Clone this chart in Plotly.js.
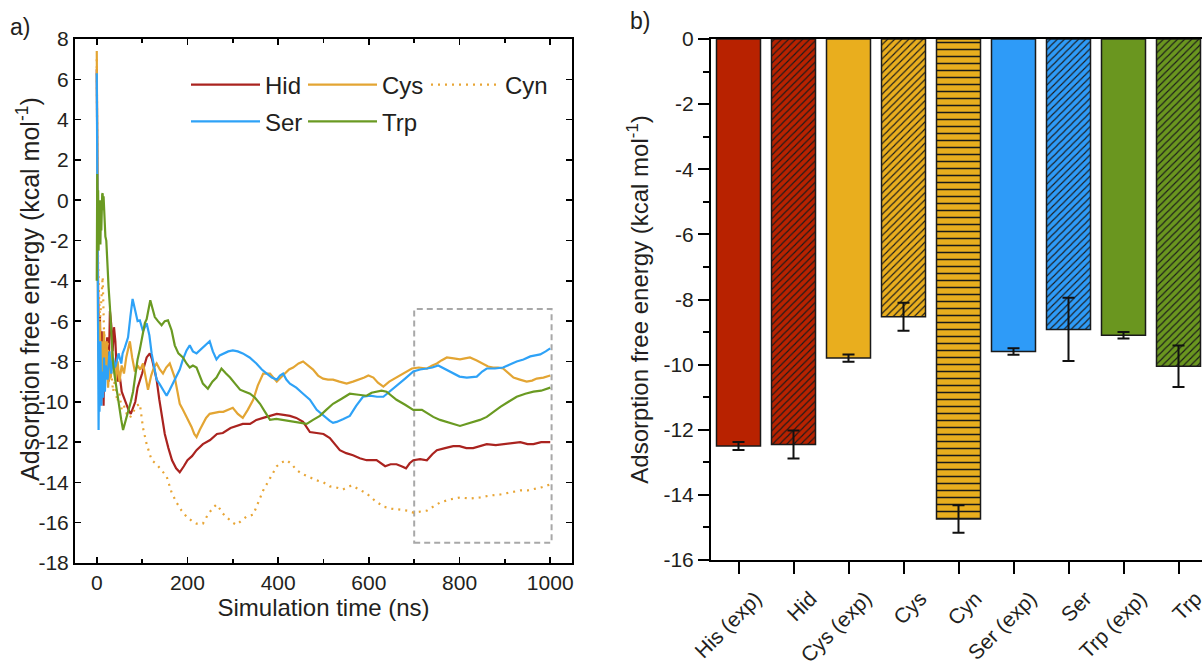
<!DOCTYPE html>
<html>
<head>
<meta charset="utf-8">
<script src="https://cdn.plot.ly/plotly-3.0.1.min.js"></script>
<style>
html,body{margin:0;padding:0;overflow:hidden;background:#fff;}
#chart{width:1206px;height:669px;}
</style>
</head>
<body>
<div id="chart"></div>
<script>
// ---------- Panel a: time series (ns, kcal/mol) ----------
const hidT = [0,1,2,3,5,7,9,11,13,15,17,20,23,26,29,32,35,38,41,44,47,50,55,60,65,70,75,80,85,90,95,100,105,110,117,122,127,132,138,144,150,158,166,175,183,192,200,210,220,234,250,265,278,295,308,322,338,352,367,382,397,412,426,440,455,470,485,500,514,525,536,550,565,580,595,617,636,648,661,672,682,690,698,713,728,740,750,768,786,800,815,830,845,860,880,904,920,934,950,963,980,1000];
const hidY = [6.5,1.8,-3.0,-4.5,-7.5,-5.8,-9.5,-6.5,-8.5,-10.2,-7.2,-8.0,-6.8,-9.0,-5.5,-6.2,-7.5,-6.3,-7.0,-8.5,-9.0,-8.6,-9.5,-9.8,-10.2,-10.4,-10.6,-10.3,-10.0,-9.3,-9.0,-8.6,-8.2,-7.8,-7.6,-7.9,-8.4,-8.9,-9.9,-10.8,-11.6,-12.3,-12.9,-13.3,-13.5,-13.2,-12.9,-12.7,-12.4,-12.1,-11.9,-11.6,-11.55,-11.3,-11.2,-11.1,-11.1,-10.9,-10.8,-10.7,-10.6,-10.65,-10.7,-10.8,-11.0,-11.5,-11.55,-11.6,-11.8,-12.1,-12.4,-12.55,-12.65,-12.8,-12.9,-12.9,-13.2,-13.1,-13.1,-13.2,-13.3,-13.05,-12.9,-12.85,-12.9,-12.6,-12.4,-12.3,-12.2,-12.2,-12.3,-12.3,-12.2,-12.1,-12.15,-12.1,-12.05,-12.0,-12.1,-12.1,-12.0,-12.0];

const cysT = [0,1,2,3,5,7,9,11,13,16,19,22,25,28,31,34,38,42,46,50,55,60,65,70,73,78,84,90,96,102,108,113,120,126,132,139,146,153,161,166,172,178,183,190,198,204,209,215,220,227,234,241,249,260,270,279,290,300,311,322,333,345,355,367,382,397,406,415,424,433,445,455,466,477,488,499,510,521,535,551,565,580,590,599,610,620,632,645,661,678,695,710,728,740,750,760,772,787,801,812,823,838,852,863,874,885,896,908,919,933,948,960,970,985,1000];
const cysY = [7.4,0,-5,-7,-8.5,-6,-9.8,-7,-9,-6.5,-8.5,-7.0,-9.3,-8.0,-8.8,-7.5,-8.3,-9.0,-8.0,-9.0,-8.2,-8.6,-7.8,-7.2,-7.0,-7.8,-8.5,-8.2,-8.4,-8.1,-8.9,-9.4,-8.7,-8.3,-8.1,-8.4,-8.6,-8.3,-8.1,-8.4,-8.8,-9.5,-10.1,-10.4,-10.75,-11.0,-11.25,-11.6,-11.75,-11.4,-11.1,-10.8,-10.6,-10.55,-10.5,-10.5,-10.4,-10.3,-10.6,-10.8,-10.4,-9.9,-9.2,-8.6,-8.6,-9.0,-8.8,-8.6,-8.4,-8.3,-8.1,-8.0,-8.2,-8.4,-8.7,-8.85,-8.9,-8.9,-9.0,-9.1,-9.0,-8.9,-8.8,-8.7,-8.8,-9.05,-9.25,-9.0,-8.8,-8.55,-8.35,-8.3,-8.35,-8.2,-8.1,-7.95,-7.8,-7.85,-7.9,-7.85,-7.8,-7.95,-8.1,-8.25,-8.3,-8.3,-8.35,-8.6,-8.8,-8.9,-9.0,-8.95,-8.85,-8.8,-8.7];

const cynT = [0,1,2,4,7,10,13,16,20,24,28,32,36,40,45,50,55,60,66,73,80,88,95,102,110,121,132,143,154,165,176,187,198,209,220,234,245,255,264,271,278,290,300,308,318,330,345,356,367,382,397,408,419,430,441,455,470,485,500,514,528,543,562,578,595,613,632,650,669,685,698,712,728,742,757,778,801,823,845,868,890,912,934,950,963,980,1000];
const cynY = [7.0,2,-2,-4,-6,-5,-3.8,-6.5,-8,-7,-9,-8.5,-9.5,-8.9,-10.0,-9.6,-10.4,-10.2,-10.6,-10.8,-10.5,-10.2,-10.1,-11.3,-12.1,-12.9,-13.1,-13.4,-13.7,-14.5,-15.0,-15.4,-15.7,-15.9,-16.05,-16.05,-15.6,-15.3,-15.1,-15.3,-15.55,-15.8,-16.0,-16.1,-15.9,-15.7,-15.6,-15.0,-14.4,-13.8,-13.2,-13.0,-12.9,-13.1,-13.4,-13.6,-13.75,-13.9,-14.0,-14.2,-14.25,-14.35,-14.15,-14.35,-14.55,-14.9,-15.2,-15.3,-15.35,-15.4,-15.5,-15.45,-15.4,-15.2,-15.0,-14.85,-14.75,-14.8,-14.75,-14.65,-14.6,-14.5,-14.4,-14.4,-14.35,-14.25,-14.1];

const serT = [0,1,2,3,4,5,6,8,10,12,14,16,18,20,24,28,32,36,40,43,48,54,57,62,69,74,79,85,90,95,102,110,116,121,127,132,138,143,150,154,161,168,176,183,190,198,205,212,220,227,235,242,249,256,264,271,279,290,300,311,322,337,352,364,375,386,397,404,411,418,426,440,455,470,485,500,514,521,529,544,558,572,587,603,618,632,646,661,680,698,713,728,740,753,770,786,800,816,838,850,860,878,896,911,926,941,956,967,978,990,1000];
const serY = [6.3,2,-4,-9,-11.4,-8,-10.5,-7,-10.2,-8.5,-9.8,-7.8,-9.5,-8.2,-8.9,-7.5,-8.6,-7.8,-8.3,-8.1,-7.6,-8.1,-7.6,-7.3,-6.8,-5.8,-4.9,-5.5,-6.0,-5.96,-6.5,-6.1,-6.7,-7.6,-8.3,-8.9,-9.1,-9.3,-9.6,-9.7,-9.4,-9.1,-8.7,-8.4,-7.9,-7.45,-7.2,-7.5,-7.6,-7.45,-7.3,-7.1,-7.0,-7.5,-7.9,-7.7,-7.6,-7.5,-7.45,-7.5,-7.6,-7.8,-8.1,-8.4,-8.6,-8.8,-8.9,-8.7,-8.6,-8.9,-9.1,-9.3,-9.6,-9.9,-10.4,-10.7,-10.95,-11.05,-11.0,-10.85,-10.7,-10.2,-9.75,-9.7,-9.75,-9.75,-9.5,-9.2,-8.85,-8.5,-8.4,-8.35,-8.3,-8.2,-8.4,-8.6,-8.75,-8.8,-8.75,-8.5,-8.35,-8.35,-8.3,-8.15,-8.0,-7.9,-7.75,-7.7,-7.65,-7.5,-7.35];

const trpT = [0,1,2,3,4,5,6,7,8,9,10,11,12,13,14,15,17,19,21,23,26,29,32,36,40,46,50,54,58,63,69,75,80,85,90,95,100,106,110,115,118,122,128,135,143,150,157,165,172,180,190,198,205,212,220,227,234,245,255,264,275,285,294,305,316,327,338,349,360,371,382,396,411,426,441,452,463,477,492,506,521,540,558,577,595,606,617,628,639,650,661,680,698,717,730,742,757,772,787,801,815,830,845,860,875,890,908,926,945,963,980,1000];
const trpY = [-4.0,1.3,-1.5,0.5,-2.5,-0.3,-1.8,0.0,-2.2,-0.8,-1.5,0.0,0.3,0.35,-0.5,0.2,-1.2,-1.8,-2.0,-3.2,-4.3,-5.3,-6.5,-8.1,-8.8,-9.8,-10.3,-10.9,-11.4,-11.0,-10.6,-10.0,-9.5,-8.6,-7.9,-7.4,-6.8,-6.1,-5.9,-5.2,-4.96,-5.3,-5.8,-6.0,-6.2,-6.0,-5.96,-6.45,-7.2,-7.6,-7.8,-8.1,-8.3,-8.2,-8.3,-8.7,-9.1,-9.35,-9.0,-8.8,-8.35,-8.6,-8.8,-9.1,-9.4,-9.5,-9.6,-9.8,-10.1,-10.5,-10.9,-10.85,-10.9,-10.95,-11.0,-11.05,-11.1,-10.9,-10.7,-10.4,-10.1,-9.85,-9.6,-9.65,-9.7,-9.55,-9.5,-9.45,-9.5,-9.7,-9.9,-10.15,-10.4,-10.4,-10.6,-10.75,-10.9,-11.0,-11.1,-11.2,-11.1,-11.0,-10.9,-10.75,-10.5,-10.25,-10.0,-9.75,-9.6,-9.5,-9.45,-9.3];

// dashed zoom box (ns, kcal/mol)
const zoomBoxX = [700, 1003];
const zoomBoxY = [-17, -5.4];

// tick labels (plain hyphen minus, as in the reference)
const aYTickVals = [8,6,4,2,0,-2,-4,-6,-8,-10,-12,-14,-16,-18];
const aYTickText = ['8','6','4','2','0','-2','-4','-6','-8','-10','-12','-14','-16','-18'];
const bYTickVals = [0,-2,-4,-6,-8,-10,-12,-14,-16];
const bYTickText = ['0','-2','-4','-6','-8','-10','-12','-14','-16'];

// ---------- Panel b: bars ----------
const barCats = ['His (exp)','Hid','Cys (exp)','Cys','Cyn','Ser (exp)','Ser','Trp (exp)','Trp'];
const barVals = [-12.5, -12.45, -9.8, -8.53, -14.74, -9.6, -8.92, -9.1, -10.05];
const barErrs = [0.12, 0.43, 0.11, 0.43, 0.42, 0.1, 0.97, 0.1, 0.64];

const C = {red:'#B82200', yel:'#E9AE1E', blu:'#2E9BF8', grn:'#6A961F'};
const barColors = [C.red, C.red, C.yel, C.yel, C.yel, C.blu, C.blu, C.grn, C.grn];
const barShapes = ['', '/', '', '/', '-', '', '/', '', '/'];
const barPatSize = [6, 5, 6, 5, 7, 6, 5, 6, 5];

const FONT = 'Liberation Sans, Arial, Helvetica, sans-serif';
const INK = '#231F20';
const YTITLE = 'Adsorption free energy (kcal mol<sup>-1</sup>)';

// split bars: plain (experimental) vs hatched (simulated)
const pick = (arr, keep) => arr.filter((_, i) => keep(i));
const isPlain = i => barShapes[i] === '';
const isHatch = i => barShapes[i] !== '';

const lineW = 2.2;
const traces = [
  {x: hidT, y: hidY, name: 'Hid', type: 'scatter', mode: 'lines', line: {color: '#AA231F', width: lineW}, legend: 'legend', xaxis: 'x', yaxis: 'y'},
  {x: cysT, y: cysY, name: 'Cys', type: 'scatter', mode: 'lines', line: {color: '#E3A533', width: lineW}, legend: 'legend2', xaxis: 'x', yaxis: 'y'},
  {x: cynT, y: cynY, name: 'Cyn', type: 'scatter', mode: 'lines', line: {color: '#E8A535', width: 2.2, dash: '2px,5px'}, legend: 'legend3', xaxis: 'x', yaxis: 'y'},
  {x: serT, y: serY, name: 'Ser', type: 'scatter', mode: 'lines', line: {color: '#2EA2F7', width: lineW}, legend: 'legend4', xaxis: 'x', yaxis: 'y'},
  {x: trpT, y: trpY, name: 'Trp', type: 'scatter', mode: 'lines', line: {color: '#6A9A22', width: lineW}, legend: 'legend5', xaxis: 'x', yaxis: 'y'},
  {
    x: pick(barCats, isPlain), y: pick(barVals, isPlain), type: 'bar', xaxis: 'x2', yaxis: 'y2', showlegend: false, width: 0.8,
    marker: {color: pick(barColors, isPlain), line: {color: '#1a1a1a', width: 1.5}},
    error_y: {type: 'data', array: pick(barErrs, isPlain), visible: true, color: '#111', thickness: 2, width: 6}
  },
  {
    x: pick(barCats, isHatch), y: pick(barVals, isHatch), type: 'bar', xaxis: 'x2', yaxis: 'y2', showlegend: false, width: 0.8,
    marker: {color: '#888', line: {color: '#1a1a1a', width: 1.5},
      pattern: {shape: pick(barShapes, isHatch), fillmode: 'overlay', bgcolor: pick(barColors, isHatch), fgcolor: '#1a1a1a',
                fgopacity: 1, size: pick(barPatSize, isHatch), solidity: 0.22}},
    error_y: {type: 'data', array: pick(barErrs, isHatch), visible: true, color: '#111', thickness: 2, width: 6}
  }
];

const W = 1206;
const legendCommon = {
  xanchor: 'left', yanchor: 'top', orientation: 'v', itemwidth: 69,
  font: {size: 24, color: INK}, bgcolor: 'rgba(0,0,0,0)', borderwidth: 0
};
const row1 = 0.955, row2 = 0.885;
const layout = {
  width: W, height: 669,
  margin: {l: 0, r: 0, t: 39, b: 106, pad: 0},
  paper_bgcolor: '#fff', plot_bgcolor: 'rgba(0,0,0,0)',
  font: {family: FONT, color: INK, size: 21},
  showlegend: true,
  barmode: 'overlay',
  xaxis: {
    domain: [75/W, 572/W], range: [-48, 1048], dtick: 200, tick0: 0,
    ticks: 'inside', ticklen: 6, tickwidth: 1.5, tickcolor: '#000',
    minor: {dtick: 100, ticks: 'inside', ticklen: 4, tickwidth: 1.5, tickcolor: '#000', showgrid: false},
    showline: true, linewidth: 2, linecolor: '#000', mirror: 'ticks',
    showgrid: false, zeroline: false, tickfont: {size: 21},
    title: {text: 'Simulation time (ns)', font: {size: 24}, standoff: 6}, automargin: false
  },
  yaxis: {
    domain: [0, 1], range: [-18, 8], tickmode: 'array', tickvals: aYTickVals, ticktext: aYTickText,
    ticks: 'inside', ticklen: 6, tickwidth: 1.5, tickcolor: '#000',
    showline: true, linewidth: 2, linecolor: '#000', mirror: 'ticks',
    showgrid: false, zeroline: false, tickfont: {size: 21}, automargin: false
  },
  xaxis2: {
    domain: [711/W, 1], range: [-0.5, 8.5], anchor: 'y2',
    categoryorder: 'array', categoryarray: barCats,
    ticks: 'outside', ticklen: 12, tickwidth: 2, tickcolor: '#000', tickangle: -45,
    ticklabelshift: 17, ticklabelstandoff: 4,
    showline: true, linewidth: 2, linecolor: '#000', mirror: true,
    showgrid: false, zeroline: false, tickfont: {size: 21}, automargin: false
  },
  yaxis2: {
    domain: [3/524, 1], range: [-16, 0], anchor: 'x2', tickmode: 'array', tickvals: bYTickVals, ticktext: bYTickText,
    ticks: 'outside', ticklen: 11, tickwidth: 2, tickcolor: '#000',
    minor: {dtick: 1, tick0: 0, ticks: 'outside', ticklen: 6, tickwidth: 2, tickcolor: '#000', showgrid: false},
    showline: true, linewidth: 2, linecolor: '#000', mirror: true,
    showgrid: false, zeroline: false, tickfont: {size: 21},
    title: {text: YTITLE, font: {size: 24}, standoff: 8}, automargin: false
  },
  legend:  Object.assign({x: 186/W, y: row1}, legendCommon),
  legend2: Object.assign({x: 303/W, y: row1}, legendCommon),
  legend3: Object.assign({x: 426/W, y: row1}, legendCommon),
  legend4: Object.assign({x: 186/W, y: row2}, legendCommon),
  legend5: Object.assign({x: 303/W, y: row2}, legendCommon),
  shapes: [
    {type: 'rect', xref: 'x', yref: 'y', x0: zoomBoxX[0], x1: zoomBoxX[1], y0: zoomBoxY[0], y1: zoomBoxY[1],
     line: {color: '#A8A8A8', width: 2, dash: '6px,4px'}, fillcolor: 'rgba(0,0,0,0)', layer: 'below'}
  ],
  annotations: [
    {text: 'a)', xref: 'paper', yref: 'paper', x: 8/W, y: 1 + 12/524, xanchor: 'left', yanchor: 'middle', showarrow: false, font: {size: 23}},
    {text: 'b)', xref: 'paper', yref: 'paper', x: 628/W, y: 1 + 18/524, xanchor: 'left', yanchor: 'middle', showarrow: false, font: {size: 23}},
    {text: YTITLE, xref: 'paper', yref: 'paper', x: 28/W, y: 1 - (289-39)/524, xanchor: 'center', yanchor: 'middle',
     textangle: -90, showarrow: false, font: {size: 25}}
  ]
};

Plotly.newPlot('chart', traces, layout, {displayModeBar: false, staticPlot: true});
</script>
</body>
</html>
